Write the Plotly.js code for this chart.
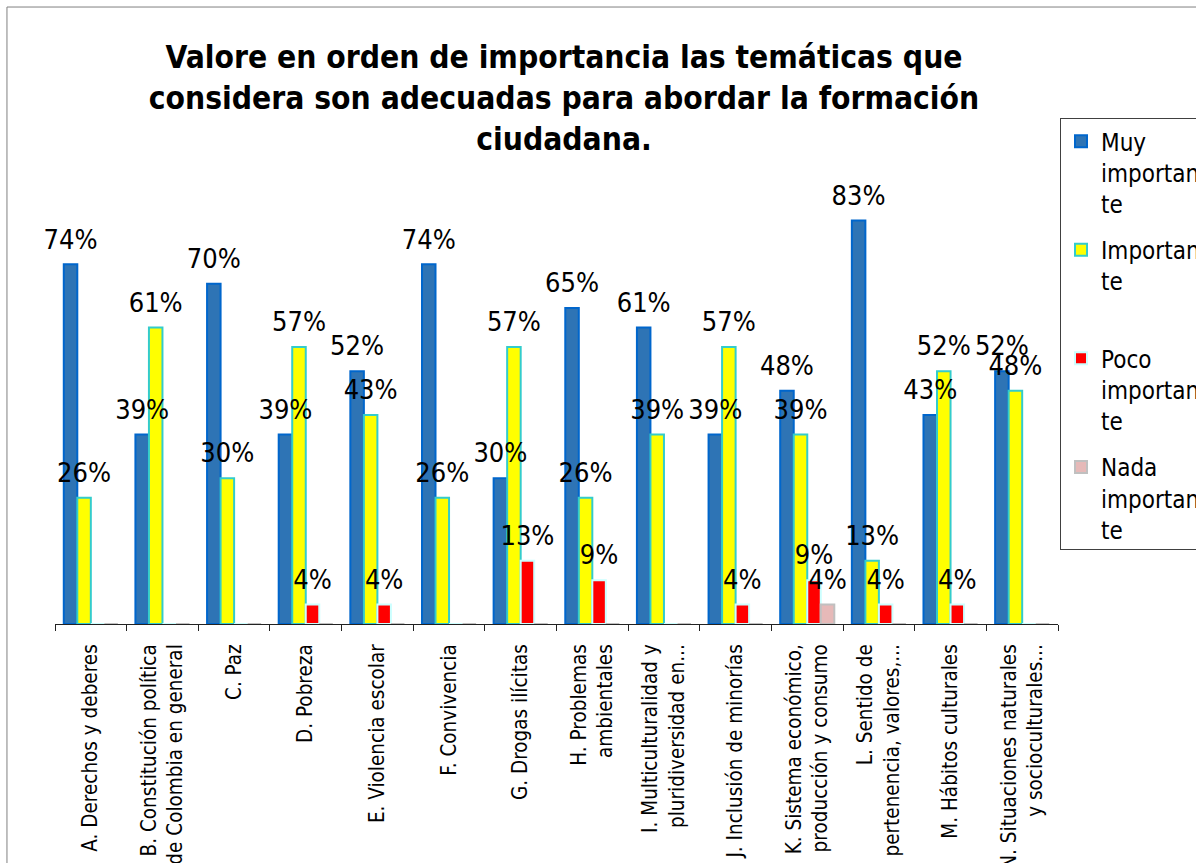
<!DOCTYPE html>
<html>
<head>
<meta charset="utf-8">
<script src="https://cdn.plot.ly/plotly-3.0.1.min.js"></script>
<style>html,body{margin:0;padding:0;background:#fff;}#chart{width:1196px;height:863px;}</style>
</head>
<body>
<div id="chart"></div>
<script>
const categories = [
  "A. Derechos y deberes",
  "B. Constitución política<br>de Colombia en general",
  "C. Paz",
  "D. Pobreza",
  "E. Violencia escolar",
  "F. Convivencia",
  "G. Drogas ilícitas",
  "H. Problemas<br>ambientales",
  "I. Multiculturalidad y<br>pluridiversidad en...",
  "J. Inclusión de minorías",
  "K. Sistema económico,<br>producción y consumo",
  "L. Sentido de<br>pertenencia, valores,...",
  "M. Hábitos culturales",
  "N. Situaciones naturales<br>y socioculturales..."
];
const muyImportante  = [74, 39, 70, 39, 52, 74, 30, 65, 61, 39, 48, 83, 43, 52];
const importante     = [26, 61, 30, 57, 43, 26, 57, 26, 39, 57, 39, 13, 52, 48];
const pocoImportante = [0, 0, 0, 4, 4, 0, 13, 9, 0, 4, 9, 4, 4, 0];
const nadaImportante = [0, 0, 0, 0, 0, 0, 0, 0, 0, 0, 4, 0, 0, 0];
const seriesNames = ["Muy<br>importan<br>te", "Importan<br>te<br>\u00a0", "Poco<br>importan<br>te", "Nada<br>importan<br>te"];

const FONT = '"DejaVu Sans Condensed", "DejaVu Sans", sans-serif';
const lbl = arr => arr.map(v => v > 0 ? v + "%" : "");

const styles = [
  {fill: "#2E74B5", line: "#0066CC"},
  {fill: "#FFFF00", line: "#33CCCC"},
  {fill: "#FF0000", line: "#CCFFFF"},
  {fill: "#E6B9B8", line: "#C0C0C0"}
];
const series = [muyImportante, importante, pocoImportante, nadaImportante];

// real bars (no text)
const barTraces = series.map((vals, i) => ({
  type: "bar",
  name: seriesNames[i],
  legendgroup: "g" + i,
  x: categories,
  y: vals,
  marker: {color: styles[i].fill, line: {color: styles[i].line, width: 2}},
  hoverinfo: "none",
  xaxis: "x", yaxis: "y"
}));
// transparent overlay bars that carry the value labels, drawn above all bars
const labelTraces = series.map((vals, i) => ({
  type: "bar",
  showlegend: false,
  x: categories,
  y: vals,
  text: lbl(vals),
  textposition: "outside",
  constraintext: "none",
  cliponaxis: false,
  textfont: {family: FONT, size: 27, color: "#000"},
  marker: {color: "rgba(0,0,0,0)", line: {width: 0}},
  hoverinfo: "none",
  xaxis: "x2", yaxis: "y2"
}));

const layout = {
  width: 1196,
  height: 863,
  paper_bgcolor: "#fff",
  plot_bgcolor: "rgba(0,0,0,0)",
  margin: {l: 55, r: 138, t: 138, b: 239, autoexpand: false},
  barmode: "group",
  bargap: 0.245,
  bargroupgap: 0,
  font: {family: FONT, color: "#000"},
  title: {
    text: "<b>Valore en orden de importancia las temáticas que<br>considera son adecuadas para abordar la formación<br>ciudadana.</b>",
    font: {family: FONT, size: 31.5, color: "#000"},
    x: 564 / 1196, xanchor: "center", xref: "container",
    y: 1 - 68 / 863, yanchor: "top", yref: "container"
  },
  xaxis: {
    type: "category",
    range: [-0.5, 13.5],
    showline: true, linecolor: "#222", linewidth: 1,
    ticks: "outside", tickson: "boundaries", ticklen: 6, tickcolor: "#222",
    tickangle: -90,
    ticklabelstandoff: 11,
    tickfont: {family: FONT, size: 20.5, color: "#000"},
    showgrid: false, zeroline: false, automargin: false
  },
  yaxis: {
    range: [0, 100], visible: false, showgrid: false, zeroline: false
  },
  xaxis2: {
    type: "category", overlaying: "x", range: [-0.5, 13.5],
    visible: false, showgrid: false, zeroline: false
  },
  yaxis2: {
    overlaying: "y", range: [-1.4, 98.6],
    visible: false, showgrid: false, zeroline: false
  },
  legend: {
    x: 1.002, xanchor: "left", xref: "paper",
    y: 1.041, yanchor: "top", yref: "paper",
    bordercolor: "#404040", borderwidth: 1, bgcolor: "#fff",
    font: {family: FONT, size: 24, color: "#000"},
    valign: "top", tracegroupgap: 12, itemwidth: 30
  },
  shapes: [{
    type: "rect", xref: "paper", yref: "paper",
    x0: -0.0479, x1: 1.3, y0: -0.7, y1: 1.2695,
    line: {color: "#808080", width: 1}, fillcolor: "rgba(0,0,0,0)", layer: "below"
  }],
  showlegend: true
};

Plotly.newPlot("chart", barTraces.concat(labelTraces), layout, {displayModeBar: false, staticPlot: true});
</script>
</body>
</html>
